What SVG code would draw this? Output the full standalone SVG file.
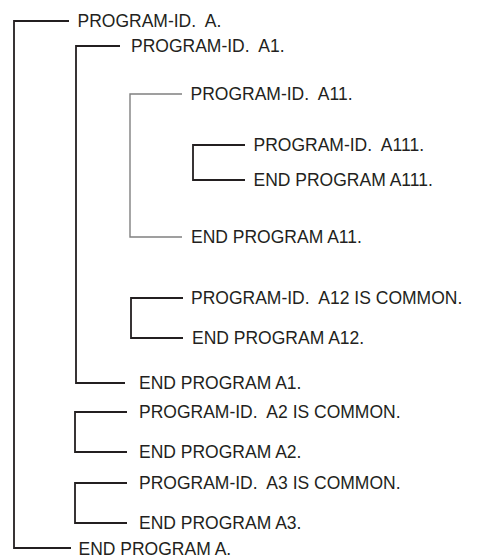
<svg xmlns="http://www.w3.org/2000/svg" width="478" height="556" viewBox="0 0 478 556">
<style>
text{font-family:"Liberation Sans",Arial,Helvetica,sans-serif;font-size:17.5px;fill:#231f20;white-space:pre}
.b{fill:none;stroke:#231f20;stroke-width:1.8}
.g{fill:none;stroke:#808080;stroke-width:1.4}
</style>
<rect width="478" height="556" fill="#ffffff"/>
<g id="connectors">
<path class="b" d="M69,21H14V548H71"/>
<path class="b" d="M120,46H76V383H125"/>
<path class="g" d="M182,94H130V237H182"/>
<path class="b" d="M245,145H193V180H245"/>
<path class="b" d="M183,298H131V338H183"/>
<path class="b" d="M127,412H75V452H127"/>
<path class="b" d="M127,483H75V523H127"/>
</g>
<g id="node-A-start"><text x="77.5" y="26.5" xml:space="preserve">PROGRAM-ID.  A.</text></g>
<g id="node-A1-start"><text x="131" y="52" xml:space="preserve">PROGRAM-ID.  A1.</text></g>
<g id="node-A11-start"><text x="190.5" y="100" xml:space="preserve">PROGRAM-ID.  A11.</text></g>
<g id="node-A111-start"><text x="253.5" y="151" xml:space="preserve">PROGRAM-ID.  A111.</text></g>
<g id="node-A111-end"><text x="253.5" y="186">END PROGRAM A111.</text></g>
<g id="node-A11-end"><text x="191" y="243">END PROGRAM A11.</text></g>
<g id="node-A12-start"><text x="191" y="304" xml:space="preserve">PROGRAM-ID.  A12 IS COMMON.</text></g>
<g id="node-A12-end"><text x="192" y="344">END PROGRAM A12.</text></g>
<g id="node-A1-end"><text x="139" y="389">END PROGRAM A1.</text></g>
<g id="node-A2-start"><text x="139" y="418" xml:space="preserve">PROGRAM-ID.  A2 IS COMMON.</text></g>
<g id="node-A2-end"><text x="139" y="458">END PROGRAM A2.</text></g>
<g id="node-A3-start"><text x="139" y="489" xml:space="preserve">PROGRAM-ID.  A3 IS COMMON.</text></g>
<g id="node-A3-end"><text x="139" y="529">END PROGRAM A3.</text></g>
<g id="node-A-end"><text x="78.5" y="554.5">END PROGRAM A.</text></g>
</svg>
